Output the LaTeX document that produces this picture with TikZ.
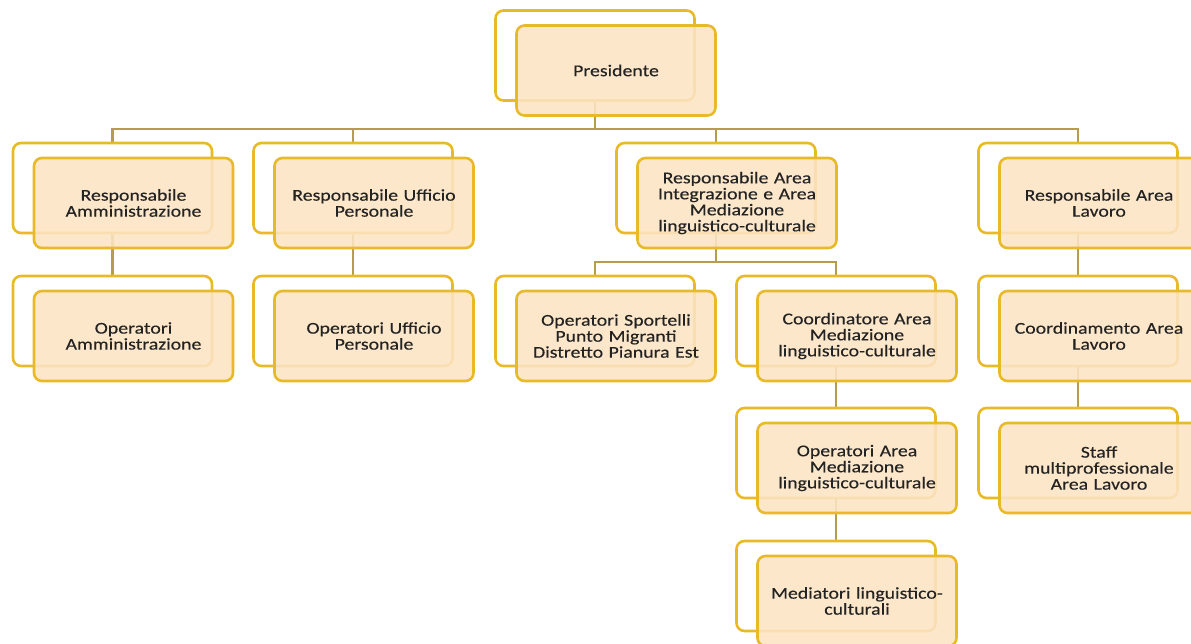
\documentclass[tikz,border=0pt]{standalone}
\usepackage{fontspec}
\setmainfont{Carlito}[FakeStretch=1.2,FakeBold=0.3]
\usetikzlibrary{backgrounds}
\definecolor{boxgold}{RGB}{232,186,40}
\definecolor{peach}{RGB}{252,228,196}
\definecolor{linegold}{RGB}{180,158,78}
\definecolor{txt}{RGB}{35,35,35}
\tikzset{
  backbox/.style={draw=boxgold, line width=2.6pt, rounded corners=8pt, fill=white,
    minimum width=199pt, minimum height=90pt, inner sep=0pt},
  frontbox/.style={draw=boxgold, line width=2.6pt, rounded corners=8pt, fill=peach,
    fill opacity=0.88, text opacity=1, minimum width=199pt, minimum height=90pt,
    inner sep=0pt, text width=195pt, align=center,
    font=\fontsize{16.5}{16}\selectfont, text=txt},
  conn/.style={draw=linegold, line width=2.2pt},
}
\newcommand{\orgbox}[4]{%
  \node[backbox] (#1B) at (#2,#3) {};
  \node[frontbox] (#1) at ([shift={(21,15)}]#1B.center) {#4};
}
\begin{document}
\begin{tikzpicture}[x=1pt,y=-1pt]
\useasboundingbox (0,0) rectangle (1191,644);
\clip (0,0) rectangle (1191,644);
% level 0
\orgbox{pres}{595}{55.5}{Presidente}
% level 1
\orgbox{amm}{112.5}{188}{Responsabile\\Amministrazione}
\orgbox{pers}{353}{188}{Responsabile Ufficio\\Personale}
\orgbox{integ}{716}{188}{Responsabile Area\\Integrazione e Area\\Mediazione\\linguistico-culturale}
\orgbox{lav}{1078}{188}{Responsabile Area\\Lavoro}
% level 2
\orgbox{opamm}{112.5}{321}{Operatori\\Amministrazione}
\orgbox{oppers}{353}{321}{Operatori Ufficio\\Personale}
\orgbox{sport}{595}{321}{Operatori Sportelli\\Punto Migranti\\Distretto Pianura Est}
\orgbox{coord}{836}{321}{Coordinatore Area\\Mediazione\\linguistico-culturale}
\orgbox{coordlav}{1078}{321}{Coordinamento Area\\Lavoro}
% level 3
\orgbox{opmed}{836}{453}{Operatori Area\\Mediazione\\linguistico-culturale}
\orgbox{staff}{1078}{453}{Staff\\multiprofessionale\\Area Lavoro}
% level 4
\orgbox{mediat}{836}{586}{Mediatori linguistico-\\culturali}
% buses
\coordinate (bus1) at (0,129);
\coordinate (bus2) at (0,262);
\begin{scope}[on background layer]
  \draw[conn] (presB.south) |- (ammB.north |- bus1) -- (ammB.north);
  \draw[conn] (presB.south) |- (persB.north |- bus1) -- (persB.north);
  \draw[conn] (presB.south) |- (integB.north |- bus1) -- (integB.north);
  \draw[conn] (presB.south) |- (lavB.north |- bus1) -- (lavB.north);
  \draw[conn] (ammB.south) -- (opammB.north);
  \draw[conn] (persB.south) -- (oppersB.north);
  \draw[conn] (integB.south) |- (sportB.north |- bus2) -- (sportB.north);
  \draw[conn] (integB.south) |- (coordB.north |- bus2) -- (coordB.north);
  \draw[conn] (lavB.south) -- (coordlavB.north);
  \draw[conn] (coordB.south) -- (opmedB.north);
  \draw[conn] (opmedB.south) -- (mediatB.north);
  \draw[conn] (coordlavB.south) -- (staffB.north);
\end{scope}
\end{tikzpicture}
\end{document}
